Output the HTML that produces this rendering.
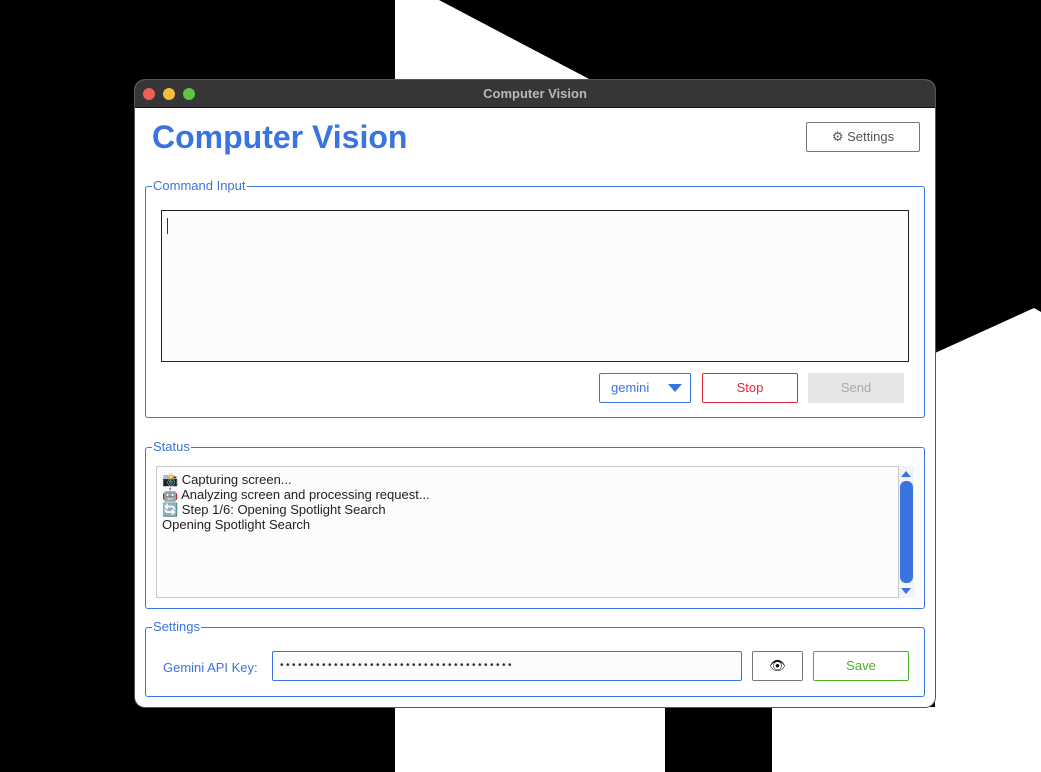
<!DOCTYPE html>
<html><head><meta charset="utf-8"><style>
*{box-sizing:border-box;margin:0;padding:0}
body{width:1041px;height:772px;background:#000;position:relative;overflow:hidden;font-family:"Liberation Sans","DejaVu Sans",sans-serif}
.a{position:absolute}
.win{left:135px;top:80px;width:800px;height:627px;background:#fff;border-radius:10px;overflow:hidden;box-shadow:0 0 0 1px #555}
.tb{left:0;top:0;width:800px;height:28px;background:#363636;border-bottom:1px solid #111}
.dot{width:12px;height:12px;border-radius:6px;top:8px}
.grp{border:1px solid #3a74e0;border-radius:3px}
.lbl{color:#3a74e0;font-size:13px;background:#fff;padding:0 1px;line-height:14px}
.btn{font-size:13px;text-align:center;border-radius:2px}
</style></head><body>
<svg class="a" style="left:0;top:0" width="1041" height="772">
<polygon points="395,0 439,0 591,80 395,80" fill="#fff"/>
<polygon points="935,353 1034,308 1041,312 1041,707 935,707" fill="#fff"/>
<rect x="395" y="707" width="270" height="65" fill="#fff"/>
<rect x="772" y="707" width="269" height="65" fill="#fff"/>
</svg>
<div class="a win">
<div class="a tb"></div>
<div class="a dot" style="left:8px;background:#ed5f57"></div>
<div class="a dot" style="left:28px;background:#f6bd3b"></div>
<div class="a dot" style="left:48px;background:#5ec544"></div>
<div class="a" style="left:0;width:800px;top:6px;text-align:center;color:#b8b8b8;font-weight:bold;font-size:13px">Computer Vision</div>
<div class="a" style="left:17px;top:39px;color:#3a74e0;font-weight:bold;font-size:32px">Computer Vision</div>
<div class="a btn" style="left:671px;top:42px;width:114px;height:30px;border:1px solid #777;color:#555;line-height:28px">⚙ Settings</div>

<div class="a grp" style="left:10px;top:106px;width:780px;height:232px"></div>
<div class="a lbl" style="left:17px;top:99px">Command Input</div>
<div class="a" style="left:26px;top:130px;width:748px;height:152px;border:1px solid #222;background:#fcfcfc"></div>
<div class="a" style="left:32px;top:138px;width:1px;height:16px;background:#333"></div>
<div class="a btn" style="left:464px;top:293px;width:92px;height:30px;border:1px solid #3a74e0;color:#3a74e0;text-align:left;padding-left:11px;line-height:28px">gemini</div>
<div class="a" style="left:533px;top:304px;width:0;height:0;border-left:7px solid transparent;border-right:7px solid transparent;border-top:8px solid #3a74e0"></div>
<div class="a btn" style="left:567px;top:293px;width:96px;height:30px;border:1px solid #e0243a;color:#e0243a;line-height:28px">Stop</div>
<div class="a btn" style="left:673px;top:293px;width:96px;height:30px;background:#e6e6e6;color:#aaa;line-height:30px">Send</div>

<div class="a grp" style="left:10px;top:367px;width:780px;height:162px"></div>
<div class="a lbl" style="left:17px;top:360px">Status</div>
<div class="a" style="left:21px;top:386px;width:743px;height:132px;border:1px solid #c8c8c8;background:#fcfcfc"></div>
<div class="a" style="left:27px;top:392px;line-height:15px;color:#222;font-family:'Liberation Sans','DejaVu Sans',sans-serif;font-size:13px">📸 Capturing screen...<br>🤖 Analyzing screen and processing request...<br>🔄 Step 1/6: Opening Spotlight Search<br>Opening Spotlight Search</div>
<div class="a" style="left:764px;top:386px;width:15px;height:132px;background:#f2f4f8"></div>
<div class="a" style="left:766px;top:391px;border-left:5px solid transparent;border-right:5px solid transparent;border-bottom:6px solid #3a74e0"></div>
<div class="a" style="left:766px;top:508px;border-left:5px solid transparent;border-right:5px solid transparent;border-top:6px solid #3a74e0"></div>
<div class="a" style="left:765px;top:401px;width:13px;height:102px;background:#3a74e0;border-radius:6px"></div>

<div class="a grp" style="left:10px;top:547px;width:780px;height:70px"></div>
<div class="a lbl" style="left:17px;top:540px">Settings</div>
<div class="a" style="left:28px;top:580px;font-size:13px;color:#3a74e0">Gemini API Key:</div>
<div class="a" style="left:137px;top:571px;width:470px;height:30px;border:1px solid #3a74e0;border-radius:2px;background:#fcfcfc;padding-left:7px;line-height:27px;font-size:10px;color:#333;letter-spacing:2.5px;white-space:nowrap;overflow:hidden">•••••••••••••••••••••••••••••••••••••••</div>
<div class="a btn" style="left:617px;top:571px;width:51px;height:30px;border:1px solid #777;line-height:28px;font-size:13px">👁</div>
<div class="a btn" style="left:678px;top:571px;width:96px;height:30px;border:1px solid #4caf2a;color:#4caf2a;line-height:28px">Save</div>
</div>
</body></html>
